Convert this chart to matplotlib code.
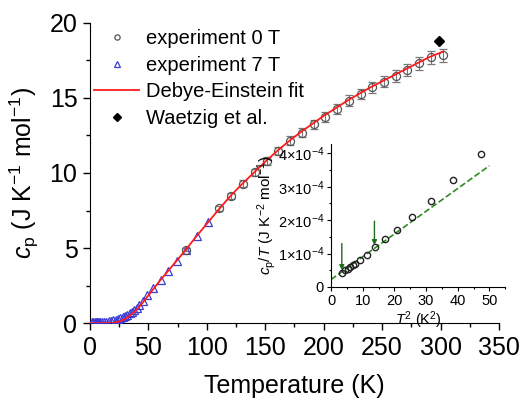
import matplotlib
matplotlib.use("Agg")
import matplotlib.pyplot as plt
from matplotlib.lines import Line2D
from matplotlib.ticker import MultipleLocator, FuncFormatter

plt.rcParams['font.family'] = ['Liberation Sans', 'DejaVu Sans']
plt.rcParams['mathtext.fontset'] = 'custom'
plt.rcParams['mathtext.rm'] = 'Liberation Sans'
plt.rcParams['mathtext.it'] = 'Liberation Sans:italic'

# experiment 0 T (open circles with error bars)
t_0T = [82.5, 110.7, 120.9, 131.2, 141.2, 151.2, 161.2, 171.1, 181.1, 191.4, 201.4,
        211.6, 221.3, 231.6, 241.6, 251.6, 261.6, 271.5, 281.8, 291.8, 301.8]
cp_0T = [4.9, 7.65, 8.49, 9.29, 10.04, 10.78, 11.49, 12.15, 12.68, 13.24, 13.75,
         14.26, 14.81, 15.26, 15.70, 16.08, 16.45, 16.85, 17.29, 17.69, 17.85]
err_0T = [0.12, 0.18, 0.2, 0.22, 0.24, 0.26, 0.27, 0.29, 0.3, 0.31, 0.33,
          0.34, 0.35, 0.36, 0.37, 0.38, 0.39, 0.4, 0.41, 0.42, 0.43]

# experiment 7 T (open triangles)
t_7T = [2, 3, 4, 5, 6, 7, 8, 9, 10, 12, 14, 16, 18, 20, 22, 24, 26, 28, 30, 32, 34,
        36, 38, 40, 42, 45.1, 48.5, 53.6, 60.5, 67.0, 74.2, 82.1, 91.3, 101.2]
cp_7T = [0.08, 0.09, 0.09, 0.09, 0.09, 0.09, 0.09, 0.09, 0.09, 0.1, 0.11, 0.13, 0.15,
         0.18, 0.22, 0.27, 0.33, 0.4, 0.47, 0.56, 0.66, 0.77, 0.89, 1.02, 1.18, 1.5,
         1.88, 2.33, 2.88, 3.48, 4.15, 4.88, 5.81, 6.72]

# Debye-Einstein fit
t_fit = [0, 10, 20, 25, 30, 35, 40, 45, 50, 55, 60, 65, 70, 75, 80, 90, 100, 110, 120,
         130, 140, 150, 160, 170, 180, 190, 200, 210, 220, 230, 240, 250, 260, 270,
         280, 290, 302]
cp_fit = [0, 0, 0.02, 0.1, 0.28, 0.55, 0.9, 1.35, 1.85, 2.35, 2.84, 3.3, 3.77,
          4.23, 4.7, 5.68, 6.62, 7.55, 8.45, 9.25, 10.0, 10.75, 11.45, 12.1, 12.7, 13.25,
          13.8, 14.3, 14.8, 15.25, 15.7, 16.1, 16.5, 16.9, 17.3, 17.7, 18.07]

# Waetzig et al.
t_lit = [298.9]
cp_lit = [18.8]

# inset: cp/T vs T^2 (cp/T in units of 1e-4)
t2_in = [3.6, 4.4, 5.3, 6.0, 6.8, 7.7, 9.1, 11.3, 13.9, 17.1, 20.8, 25.5, 31.5, 38.4, 47.4]
cpT_in = [0.43, 0.50, 0.55, 0.60, 0.65, 0.70, 0.80, 0.95, 1.18, 1.42, 1.70, 2.08,
          2.56, 3.19, 3.98]
t2_lin = [0, 50]
cpT_lin = [0.22, 3.63]
arrow_x = [3.4, 13.7]
arrow_top = [1.3, 1.97]
arrow_tip = [0.5, 1.25]

fig = plt.figure(figsize=(5.23, 3.99), dpi=100)
ax = fig.add_axes([0.172, 0.19, 0.782, 0.753])

ax.errorbar(t_0T, cp_0T, yerr=err_0T, fmt='o', mfc='none', mec='#555555',
            ms=5.8, mew=0.9, ecolor='#777777', elinewidth=0.8, capsize=3, zorder=3)
ax.plot(t_7T, cp_7T, '^', mfc='none', mec='#3b3bd6', ms=5.8, mew=0.9,
        ls='none', zorder=3)
ax.plot(t_fit, cp_fit, '-', color='#ff1a1a', lw=1.3, zorder=4)
ax.plot(t_lit, cp_lit, 'D', color='black', ms=5.5, ls='none')

ax.set_xlim(0, 350)
ax.set_ylim(0, 20)
ax.xaxis.set_major_locator(MultipleLocator(50))
ax.xaxis.set_minor_locator(MultipleLocator(25))
ax.yaxis.set_major_locator(MultipleLocator(5))
ax.yaxis.set_minor_locator(MultipleLocator(2.5))
ax.spines['top'].set_visible(False)
ax.spines['right'].set_visible(False)
ax.tick_params(which='major', length=5, width=1, labelsize=18, pad=4)
ax.tick_params(which='minor', length=3, width=1)
ax.set_xlabel('Temperature (K)', fontsize=18, labelpad=10)
ax.set_ylabel(r'$c_{\rm p}$ (J K$^{-1}$ mol$^{-1}$)', fontsize=18, labelpad=6)

handles = [
    Line2D([], [], marker='o', mfc='none', mec='#555555', ms=3.8, mew=0.9, ls='none'),
    Line2D([], [], marker='^', mfc='none', mec='#3b3bd6', ms=4.2, mew=0.9, ls='none'),
    Line2D([], [], color='#ff1a1a', lw=1.3),
    Line2D([], [], marker='D', color='black', ms=4.2, ls='none'),
]
labels = ['experiment 0 T', 'experiment 7 T', 'Debye-Einstein fit', 'Waetzig et al.']
ax.legend(handles, labels, loc='upper left', bbox_to_anchor=(0.18, 0.927),
          bbox_transform=fig.transFigure, frameon=False, fontsize=14.5,
          handlelength=2.24, handletextpad=0.33, labelspacing=0.38,
          borderpad=0, borderaxespad=0)

# inset
ins = fig.add_axes([0.633, 0.281, 0.333, 0.358])
ins.plot(t2_lin, [v * 1e-4 for v in cpT_lin], '--', color='#2e8b22', lw=1.2)
ins.plot(t2_in, [v * 1e-4 for v in cpT_in], 'o', mfc='none', mec='#222222',
         ms=4.5, mew=1.0, ls='none')
for x, y0, y1 in zip(arrow_x, arrow_top, arrow_tip):
    ins.annotate('', xy=(x, y1 * 1e-4), xytext=(x, y0 * 1e-4),
                 arrowprops=dict(arrowstyle='-|>', color='#1f6b1f', lw=1.0,
                                 mutation_scale=7, shrinkA=0, shrinkB=0))
ins.set_xlim(0, 55)
ins.set_ylim(0, 4.28e-4)
ins.xaxis.set_major_locator(MultipleLocator(10))
ins.xaxis.set_minor_locator(MultipleLocator(5))
ins.yaxis.set_major_locator(MultipleLocator(1e-4))
ins.yaxis.set_minor_locator(MultipleLocator(0.5e-4))


def sci(v, pos):
    n = int(round(v / 1e-4))
    if n == 0:
        return '0'
    return r'$%d{\times}10^{-4}$' % n


ins.yaxis.set_major_formatter(FuncFormatter(sci))
ins.spines['top'].set_visible(False)
ins.spines['right'].set_visible(False)
ins.patch.set_alpha(0)
ins.tick_params(which='major', length=3, width=0.8, labelsize=10.5, pad=2)
ins.tick_params(which='minor', length=1.5, width=0.8)
ins.set_xlabel(r'$T^2$ (K$^2$)', fontsize=10.5, labelpad=1)
ins.set_ylabel(r'$c_{\rm p}/T$ (J K$^{-2}$ mol$^{-1}$)', fontsize=11, labelpad=0)

fig.savefig('out.png', dpi=100)
